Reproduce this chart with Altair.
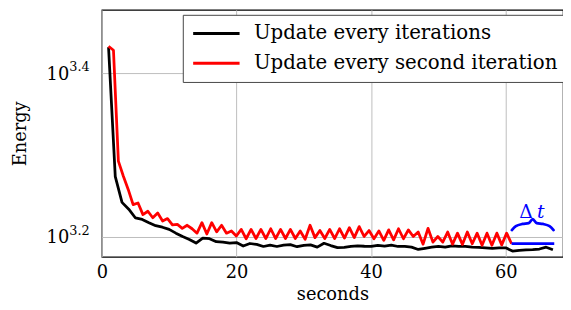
import altair as alt
import pandas as pd

series_names = ["Update every iterations", "Update every second iteration"]
series_colors = ["#000000", "#ff0000"]

black_t = [1, 2, 3, 4, 5, 6, 7, 8, 9, 10, 11, 12, 13, 14, 15, 16, 17, 18, 19, 20,
           21, 22, 23, 24, 25, 26, 27, 28, 29, 30, 31, 32, 33, 34, 35, 36, 37, 38, 39, 40,
           41, 42, 43, 44, 45, 46, 47, 48, 49, 50, 51, 52, 53, 54, 55, 56, 57, 58, 59, 60,
           61, 62, 63, 64, 65, 66, 67]
black_e = [2703, 1876, 1745, 1712, 1670, 1663, 1648, 1634, 1627, 1617, 1600, 1585, 1572, 1556, 1578, 1575, 1562, 1560, 1556, 1558,
           1543, 1554, 1550, 1541, 1547, 1541, 1547, 1549, 1540, 1546, 1548, 1538, 1555, 1545, 1536, 1537, 1541, 1544, 1542, 1541,
           1546, 1543, 1547, 1541, 1541, 1538, 1528, 1533, 1538, 1541, 1538, 1544, 1541, 1541, 1538, 1537, 1535, 1533, 1535, 1535,
           1521, 1524, 1526, 1527, 1530, 1538, 1527]

red_t = [1.00, 1.73, 2.46, 3.19, 3.92, 4.65, 5.38, 6.11, 6.84, 7.57, 8.30, 9.03, 9.76, 10.49, 11.22, 11.95, 12.68, 13.41, 14.14, 14.87,
         15.60, 16.33, 17.06, 17.79, 18.52, 19.25, 19.98, 20.71, 21.44, 22.17, 22.90, 23.63, 24.36, 25.09, 25.82, 26.55, 27.28, 28.01, 28.74, 29.47,
         30.20, 30.93, 31.66, 32.39, 33.12, 33.85, 34.58, 35.31, 36.04, 36.77, 37.50, 38.23, 38.96, 39.69, 40.42, 41.15, 41.88, 42.61, 43.34, 44.07,
         44.80, 45.53, 46.26, 46.99, 47.72, 48.45, 49.18, 49.91, 50.64, 51.37, 52.10, 52.83, 53.56, 54.29, 55.02, 55.75, 56.48, 57.21, 57.94, 58.67,
         59.40, 60.13, 60.86]
red_e = [2710, 2680, 1960, 1880, 1810, 1734, 1742, 1686, 1702, 1671, 1694, 1656, 1667, 1638, 1640, 1622, 1636, 1620, 1600, 1648,
         1596, 1648, 1606, 1636, 1600, 1610, 1587, 1617, 1575, 1617, 1576, 1617, 1576, 1620, 1576, 1617, 1576, 1617, 1576, 1610,
         1573, 1636, 1580, 1612, 1576, 1617, 1576, 1620, 1578, 1625, 1580, 1630, 1585, 1612, 1575, 1610, 1568, 1615, 1570, 1620,
         1575, 1615, 1585, 1605, 1551, 1622, 1560, 1585, 1560, 1605, 1551, 1600, 1550, 1605, 1553, 1600, 1546, 1600, 1546, 1600,
         1548, 1600, 1553]

# blue annotation: constant segment and brace, label
blue_t = [60.86, 67.2]
blue_e = [1553, 1553]
brace_t = [60.9, 61.5, 62.5, 63.4, 64.0, 64.6, 65.5, 66.5, 67.1]
brace_e = [1614, 1632, 1642, 1646, 1664, 1646, 1642, 1632, 1614]
delta_t = [63.0]
delta_e = [1700]
delta_txt = ["Δ"]
tlab_t = [65.2]
tlab_e = [1700]
tlab_txt = ["t"]

# y tick labels (10^exp)
ytick_vals = [1584.89, 2511.89]
ytick_base = ["10", "10"]
ytick_exp = ["3.2", "3.4"]

x_ticks = [0, 20, 40, 60]
x_domain = [0, 68.5]
y_domain = [1497, 3003]

FONT = "DejaVu Serif"

df = pd.DataFrame({
    "t": black_t + red_t,
    "E": black_e + red_e,
    "series": [series_names[0]] * len(black_t) + [series_names[1]] * len(red_t),
})
df_blue = pd.DataFrame({"t": blue_t, "E": blue_e})
df_brace = pd.DataFrame({"t": brace_t, "E": brace_e})
df_delta = pd.DataFrame({"t": delta_t, "E": delta_e, "txt": delta_txt})
df_tlab = pd.DataFrame({"t": tlab_t, "E": tlab_e, "txt": tlab_txt})
df_yt = pd.DataFrame({"E": ytick_vals, "base": ytick_base, "exp": ytick_exp})

xs = alt.Scale(domain=x_domain, nice=False, zero=False)
ys = alt.Scale(type="log", domain=y_domain, nice=False)

lines = alt.Chart(df).mark_line(strokeWidth=2.8, strokeJoin="round").encode(
    x=alt.X("t:Q", scale=xs, axis=alt.Axis(
        values=x_ticks, title="seconds", grid=True, ticks=False, tickSize=0, domain=False,
        labelFlush=False, labelPadding=7, labelFontSize=18, titleFontSize=18, titleFontWeight="normal",
        titleY=43, titleBaseline="alphabetic", labelColor="black", titleColor="black")),
    y=alt.Y("E:Q", scale=ys, axis=alt.Axis(
        values=ytick_vals, labels=False, title="Energy", grid=True, ticks=False, tickSize=0,
        domain=False, titleFontSize=18, titleFontWeight="normal", titleAngle=270,
        titleX=-77, titleY=125, titleAlign="center", titleBaseline="alphabetic",
        titleColor="black")),
    color=alt.Color("series:N", scale=alt.Scale(domain=series_names, range=series_colors),
                    legend=alt.Legend(title=None, orient="none", legendX=82, legendY=5,
                                      symbolType="stroke", symbolSize=2209, symbolStrokeWidth=3,
                                      labelFontSize=20, labelColor="black", labelLimit=500,
                                      strokeColor="#444444", fillColor="white", padding=9,
                                      clipHeight=20, rowPadding=10, labelOffset=13)),
)

blue = alt.Chart(df_blue).mark_line(strokeWidth=2.8, color="#0000ff").encode(
    x=alt.X("t:Q", scale=xs), y=alt.Y("E:Q", scale=ys))
brace = alt.Chart(df_brace).mark_line(strokeWidth=2.8, color="#0000ff", interpolate="monotone",
                                      strokeJoin="round", strokeCap="round").encode(
    x=alt.X("t:Q", scale=xs), y=alt.Y("E:Q", scale=ys))
lab_d = alt.Chart(df_delta).mark_text(fontSize=19, color="#0000ff", font=FONT, baseline="middle").encode(
    x=alt.X("t:Q", scale=xs), y=alt.Y("E:Q", scale=ys), text="txt:N")
lab_t = alt.Chart(df_tlab).mark_text(fontSize=19, color="#0000ff", font=FONT, baseline="middle",
                                     fontStyle="italic").encode(
    x=alt.X("t:Q", scale=xs), y=alt.Y("E:Q", scale=ys), text="txt:N")

yb = alt.Chart(df_yt).mark_text(fontSize=18, font=FONT, align="right", baseline="middle", dy=2, color="black").encode(
    x=alt.value(-33), y=alt.Y("E:Q", scale=ys), text="base:N")
ye = alt.Chart(df_yt).mark_text(fontSize=13, font=FONT, align="left", baseline="middle", dy=-6, color="black").encode(
    x=alt.value(-33), y=alt.Y("E:Q", scale=ys), text="exp:N")

chart = alt.layer(lines, blue, brace, lab_d, lab_t, yb, ye).properties(
    width=467, height=250,
    autosize=alt.AutoSizeParams(type="none"),
    padding={"left": 95, "top": 0, "right": 0, "bottom": 50},
).configure(font=FONT).configure_view(stroke="black", strokeWidth=1.2).configure_axis(
    gridColor="#bdbdbd", gridWidth=1, labelFont=FONT, titleFont=FONT
).configure_legend(labelFont=FONT, cornerRadius=0)

chart.save("out.html", embed_options={"renderer": "svg", "actions": False})
